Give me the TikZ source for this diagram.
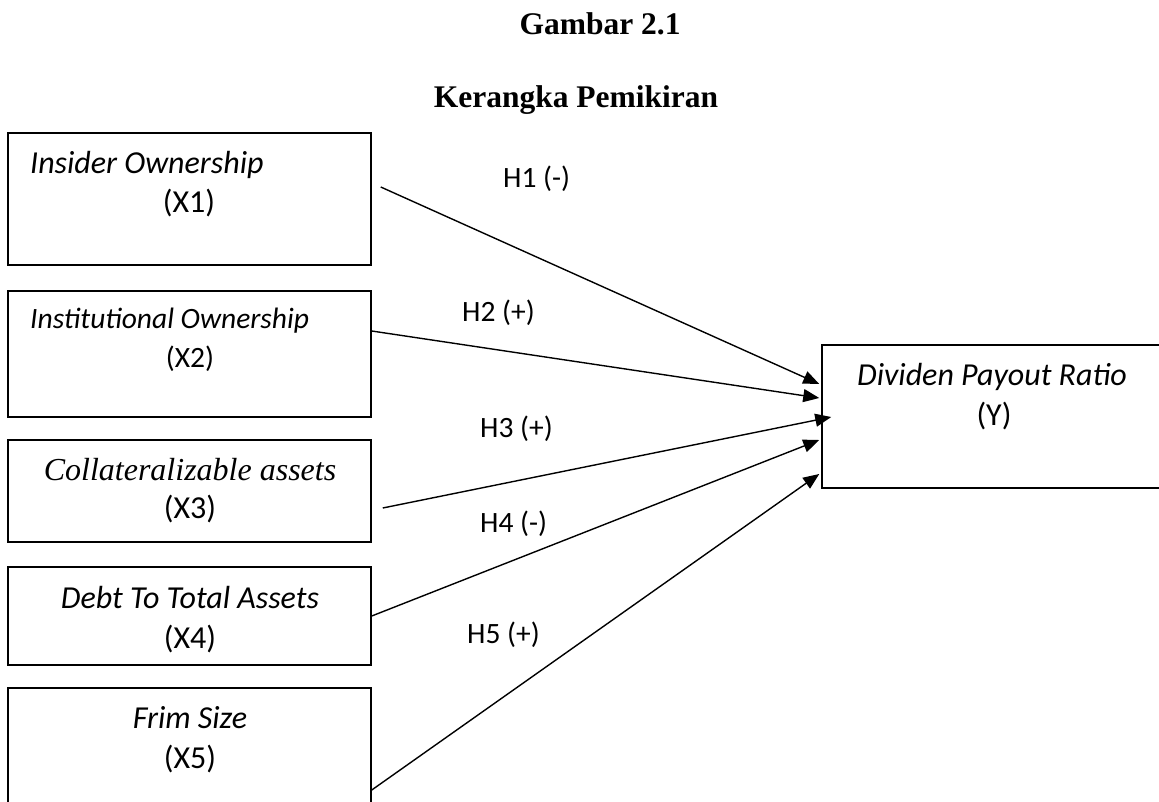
\documentclass[tikz,border=0pt]{standalone}
\usepackage{fontspec}
\setmainfont{Liberation Serif}
\newfontfamily\calibri{Carlito}
\usetikzlibrary{arrows.meta}

\begin{document}
\begin{tikzpicture}[x=1pt, y=-1pt,
  box/.style={draw, line width=1.5pt, inner sep=0pt, minimum width=363pt},
  txt/.style={font=\calibri\fontsize{32}{38}\selectfont, inner sep=0pt, anchor=base},
  small/.style={font=\calibri\fontsize{29.5}{35}\selectfont},
  ttl/.style={font=\bfseries\fontsize{31.5}{38}\selectfont, inner sep=0pt, anchor=base},
  arr/.style={line width=1.4pt, -{Triangle[length=16pt, width=13pt]}}]
  \useasboundingbox (0,0) rectangle (1159,802);
  \clip (0,0) rectangle (1159,802);
  \node[ttl] (gambar) at (600,35) {Gambar 2.1};
  \node[ttl] (judul) at (576,108) {Kerangka Pemikiran};
  \node[box, minimum height=132pt] (x1) at (189.5,199) {};
  \node[box, minimum height=126pt] (x2) at (189.5,354) {};
  \node[box, minimum height=102pt] (x3) at (189.5,491) {};
  \node[box, minimum height=98pt] (x4) at (189.5,616) {};
  \node[box, minimum height=122pt] (x5) at (189.5,749) {};
  \node[box, minimum width=348pt, minimum height=143pt] (y) at (996,416.5) {};
  \node[txt, anchor=base west] (x1a) at (30,174) {\itshape Insider Ownership};
  \node[txt] (x1b) at (189,213) {(X1)};
  \node[txt, small, anchor=base west] (x2a) at (30,328) {\itshape Institutional Ownership};
  \node[txt, small] (x2b) at (190,367) {(X2)};
  \node[txt, font=\itshape\fontsize{32}{38}\selectfont] (x3a) at (190,480) {Collateralizable assets};
  \node[txt] (x3b) at (190,518) {(X3)};
  \node[txt] (x4a) at (190,608) {\itshape Debt To Total Assets};
  \node[txt] (x4b) at (190,648) {(X4)};
  \node[txt] (x5a) at (190,728) {\itshape Frim Size};
  \node[txt] (x5b) at (190,768) {(X5)};
  \node[txt] (ya) at (992,385) {\itshape Dividen Payout Ratio};
  \node[txt] (yb) at (994,425) {(Y)};
  \node[txt, small, anchor=base west] (h1) at (503,188) {H1 (-)};
  \node[txt, small, anchor=base west] (h2) at (462,322) {H2 (+)};
  \node[txt, small, anchor=base west] (h3) at (480,437) {H3 (+)};
  \node[txt, small, anchor=base west] (h4) at (480,532) {H4 (-)};
  \node[txt, small, anchor=base west] (h5) at (467,643) {H5 (+)};
  \draw[arr] ([shift={(9,-12)}]x1.east) -- ([shift={(-2,-32.5)}]y.west);
  \draw[arr] ([shift={(0,-23)}]x2.east) -- ([shift={(-2,-18.5)}]y.west);
  \draw[arr] ([shift={(11,17)}]x3.east) -- ([shift={(10,0.5)}]y.west);
  \draw[arr] (x4.east) -- ([shift={(-2,23.5)}]y.west);
  \draw[arr] ([shift={(0,41)}]x5.east) -- ([shift={(-2,57.5)}]y.west);
\end{tikzpicture}
\end{document}
